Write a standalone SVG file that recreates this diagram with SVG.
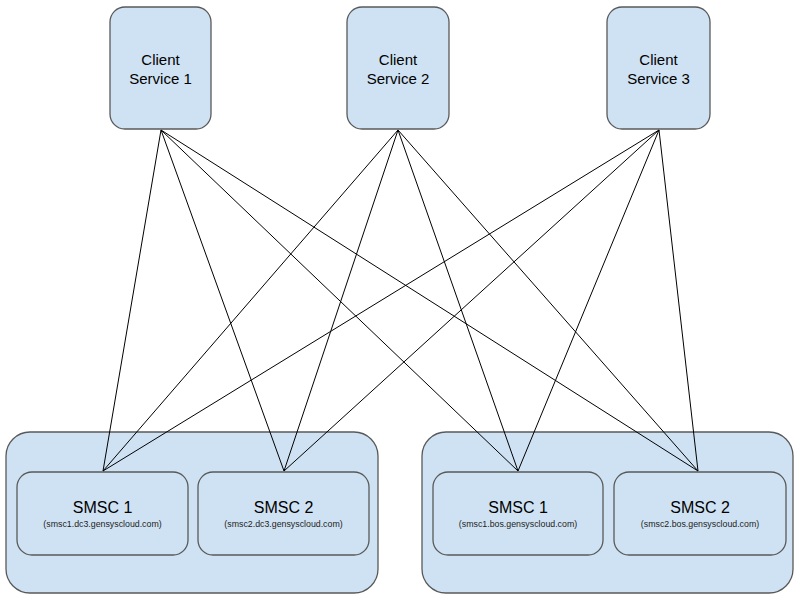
<svg xmlns="http://www.w3.org/2000/svg" width="800" height="600" viewBox="0 0 800 600">
<style>
.box{fill:#cfe2f3;stroke:#595959;stroke-width:1.3}
.t{font-family:"Liberation Sans",Arial,sans-serif;fill:#000;text-anchor:middle}
.c{font-size:15px}
.s{font-size:16px}
.sub{font-size:8.8px;fill:#222}
.ln{stroke:#000;stroke-width:1;fill:none}
</style>
<rect width="800" height="600" fill="#fff"/>
<g id="dc3">
<rect class="box" x="6" y="432" width="372" height="161" rx="24"/>
</g>
<g id="bos">
<rect class="box" x="422" y="432" width="371" height="161" rx="24"/>
</g>
<g id="client1">
<rect class="box" x="110" y="7" width="101" height="122" rx="15"/>
<text class="t c" x="160.5" y="65">Client</text>
<text class="t c" x="160.5" y="84">Service 1</text>
</g>
<g id="client2">
<rect class="box" x="347" y="7" width="102" height="122" rx="15"/>
<text class="t c" x="398" y="65">Client</text>
<text class="t c" x="398" y="84">Service 2</text>
</g>
<g id="client3">
<rect class="box" x="607" y="7" width="103" height="122" rx="15"/>
<text class="t c" x="658.5" y="65">Client</text>
<text class="t c" x="658.5" y="84">Service 3</text>
</g>
<g id="smsc1-dc3">
<rect class="box" x="17" y="472" width="171" height="83" rx="15"/>
<text class="t s" x="102.5" y="513">SMSC 1</text>
<text class="t sub" x="102.5" y="526.5">(smsc1.dc3.gensyscloud.com)</text>
</g>
<g id="smsc2-dc3">
<rect class="box" x="198" y="472" width="171" height="83" rx="15"/>
<text class="t s" x="283.5" y="513">SMSC 2</text>
<text class="t sub" x="283.5" y="526.5">(smsc2.dc3.gensyscloud.com)</text>
</g>
<g id="smsc1-bos">
<rect class="box" x="433" y="472" width="170" height="83" rx="15"/>
<text class="t s" x="518" y="513">SMSC 1</text>
<text class="t sub" x="518" y="526.5">(smsc1.bos.gensyscloud.com)</text>
</g>
<g id="smsc2-bos">
<rect class="box" x="614" y="472" width="172" height="83" rx="15"/>
<text class="t s" x="700" y="513">SMSC 2</text>
<text class="t sub" x="700" y="526.5">(smsc2.bos.gensyscloud.com)</text>
</g>
<g id="connectors" class="ln">
<line x1="161" y1="130" x2="103" y2="471"/>
<line x1="161" y1="130" x2="284" y2="471"/>
<line x1="161" y1="130" x2="518" y2="471"/>
<line x1="161" y1="130" x2="698" y2="471"/>
<line x1="398" y1="130" x2="103" y2="471"/>
<line x1="398" y1="130" x2="284" y2="471"/>
<line x1="398" y1="130" x2="518" y2="471"/>
<line x1="398" y1="130" x2="698" y2="471"/>
<line x1="659" y1="130" x2="103" y2="471"/>
<line x1="659" y1="130" x2="284" y2="471"/>
<line x1="659" y1="130" x2="518" y2="471"/>
<line x1="659" y1="130" x2="698" y2="471"/>
</g>
</svg>
